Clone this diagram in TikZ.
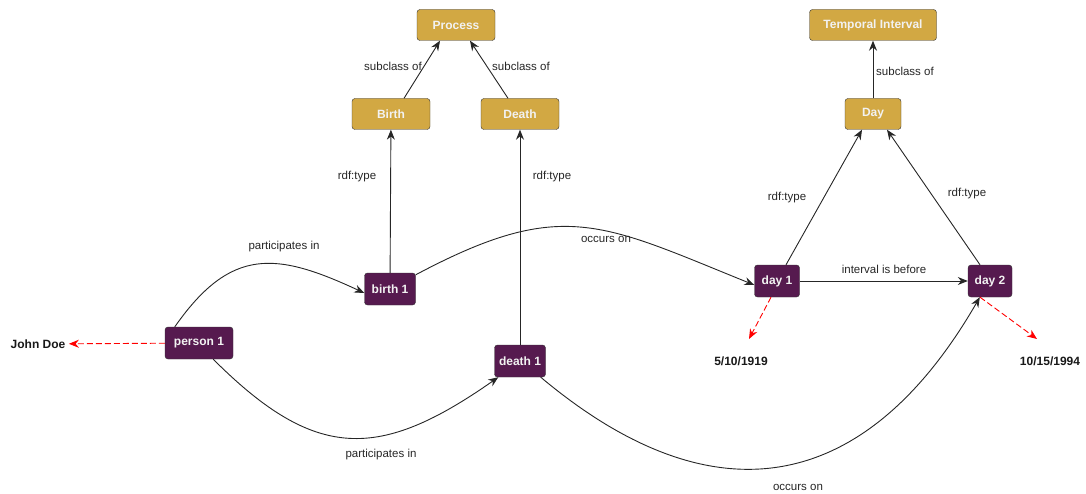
\documentclass[tikz,border=0pt]{standalone}
\usepackage{fontspec}
\setmainfont{Liberation Sans}
\usetikzlibrary{arrows.meta}
\definecolor{classgold}{HTML}{D2A843}
\definecolor{instpurple}{HTML}{561A4F}
\begin{document}
\begin{tikzpicture}[x=1pt, y=-1pt,
    font=\fontsize{11.5}{13}\selectfont,
    classbox/.style={draw=black!80, fill=classgold, rounded corners=3pt,
      text=white!95!black, font=\fontsize{12}{14}\selectfont\bfseries,
      minimum height=31pt, inner sep=2pt},
    instbox/.style={draw=black!80, fill=instpurple, rounded corners=3pt,
      text=white!95!black, font=\fontsize{12}{14}\selectfont\bfseries,
      minimum height=32pt, inner sep=2pt},
    literal/.style={text=black!90, font=\fontsize{12}{14}\selectfont\bfseries},
    rel/.style={draw=black!85, line width=0.9pt, -{Stealth[length=10pt, width=8pt]}},
    val/.style={draw=red, line width=0.9pt, dash pattern=on 6pt off 3pt,
      -{Stealth[length=10pt, width=8pt]}},
    lbl/.style={text=black!85}]
  \useasboundingbox (0,0) rectangle (1086,494);

  % classes
  \node[classbox, minimum width=78pt] (process) at (456,25) {Process};
  \node[classbox, minimum width=78pt] (birth) at (391,114) {Birth};
  \node[classbox, minimum width=78pt] (death) at (520,114) {Death};
  \node[classbox, minimum width=127pt] (interval) at (873,25) {Temporal Interval};
  \node[classbox, minimum width=56pt] (day) at (873,114) {Day};

  % instances
  \node[instbox, minimum width=68pt] (person1) at (199,343) {person 1};
  \node[instbox, minimum width=51pt] (birth1) at (390,289) {birth 1};
  \node[instbox, minimum width=51pt] (death1) at (520,361) {death 1};
  \node[instbox, minimum width=45pt] (day1) at (777,281) {day 1};
  \node[instbox, minimum width=44pt] (day2) at (990,281) {day 2};

  % literals
  \node[literal] (name) at (38,344) {John Doe};
  \node[literal] (date1) at (741,361) {5/10/1919};
  \node[literal] (date2) at (1050,361) {10/15/1994};

  % subclass of
  \draw[rel] ([xshift=13pt]birth.north) -- ([xshift=-16pt]process.south);
  \draw[rel] ([xshift=-12pt]death.north) -- ([xshift=14pt]process.south);
  \draw[rel] (day) -- (interval);
  \node[lbl] at (393,66) {subclass of};
  \node[lbl] at (521,66) {subclass of};
  \node[lbl] at (905,71) {subclass of};

  % rdf:type
  \draw[rel] (birth1) -- (birth);
  \draw[rel] (death1) -- (death);
  \draw[rel] ([xshift=9pt]day1.north) -- ([xshift=-11pt]day.south);
  \draw[rel] ([xshift=-10pt]day2.north) -- ([xshift=14pt]day.south);
  \node[lbl] at (357,177) {rdf:type};
  \node[lbl] at (552,177) {rdf:type};
  \node[lbl] at (787,198) {rdf:type};
  \node[lbl] at (967,194) {rdf:type};

  % relations between instances
  \draw[rel] ([xshift=10pt]person1.north west) to[out=55, in=155, looseness=1.3] ([yshift=-4pt]birth1.west);
  \draw[rel] ([xshift=-20pt]person1.south east) to[out=-45, in=-145, looseness=1.3] ([xshift=4pt]death1.south west);
  \draw[rel] ([yshift=-2pt]birth1.north east) to[out=28, in=158, looseness=1.25] ([yshift=-4pt]day1.west);
  \draw[rel] ([xshift=-5pt]death1.south east) to[out=-40, in=-120, looseness=1.3] ([xshift=12pt]day2.south west);
  \draw[rel] (day1) -- (day2);
  \node[lbl] at (284,247) {participates in};
  \node[lbl] at (381,455) {participates in};
  \node[lbl] at (606,239) {occurs on};
  \node[lbl] at (798,487) {occurs on};
  \node[lbl] at (884,269) {interval is before};

  % literal values
  \draw[val] (person1) -- (name);
  \draw[val] ([xshift=-6pt]day1.south) -- ([xshift=8pt, yshift=14pt]date1.north);
  \draw[val] ([xshift=-10pt]day2.south) -- ([xshift=-13pt, yshift=14pt]date2.north);
\end{tikzpicture}
\end{document}
